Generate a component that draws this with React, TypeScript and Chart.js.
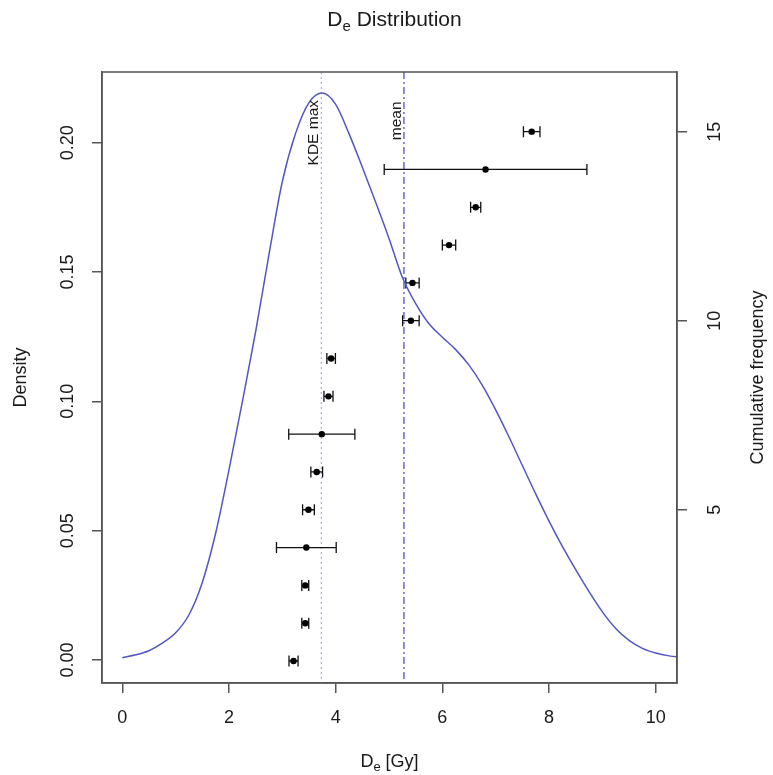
import React, { useEffect, useRef } from 'react';
import { Chart, registerables } from 'chart.js';

Chart.register(...registerables);

// ---- data ----
const kdeX = [0, 0.25, 0.5, 0.75, 1.0, 1.25, 1.5, 1.75, 2.0, 2.25, 2.5, 2.75, 3.0, 3.25, 3.5, 3.75, 4.0, 4.25, 4.5, 4.75, 5.0, 5.25, 5.5, 5.75, 6.0, 6.25, 6.5, 6.75, 7.0, 7.25, 7.5, 7.75, 8.0, 8.25, 8.5, 8.75, 9.0, 9.25, 9.5, 9.75, 10.0, 10.25, 10.5];
const kdeDensity = [0.0009, 0.0020, 0.0036, 0.0065, 0.0105, 0.0175, 0.0300, 0.0490, 0.0735, 0.0998, 0.1270, 0.1568, 0.1850, 0.2037, 0.2155, 0.2192, 0.2148, 0.2035, 0.1905, 0.1770, 0.1630, 0.1480, 0.1378, 0.1300, 0.1248, 0.1200, 0.1140, 0.1062, 0.0967, 0.0862, 0.0752, 0.0642, 0.0537, 0.0439, 0.0349, 0.0264, 0.0186, 0.0122, 0.0076, 0.0045, 0.0027, 0.0016, 0.0010];

const deValues = [3.21, 3.43, 3.43, 3.45, 3.49, 3.645, 3.74, 3.865, 3.915, 5.41, 5.44, 6.125, 6.625, 6.81, 7.675];
const deErrors = [0.085, 0.065, 0.065, 0.56, 0.11, 0.11, 0.62, 0.085, 0.08, 0.155, 0.125, 0.125, 0.095, 1.9, 0.155];
const cumFreq = [1, 2, 3, 4, 5, 6, 7, 8, 9, 10, 11, 12, 13, 14, 15];

const xTicks = [0, 2, 4, 6, 8, 10];
const densityTicks = [0, 0.05, 0.1, 0.15, 0.2];
const densityTickLabels = ['0.00', '0.05', '0.10', '0.15', '0.20'];
const freqTicks = [5, 10, 15];
const freqTickLabels = ['5', '10', '15'];

const kdeMaxValue = 3.73;
const deMeanValue = 5.28;

const FONT = '"Liberation Sans", Arial, Helvetica, sans-serif';
const TEXT = '#1a1a1a';
const AXIS = '#555555';

function drawRotated(ctx: CanvasRenderingContext2D, text: string, x: number, y: number, font: string, align: CanvasTextAlign) {
  ctx.save();
  ctx.translate(x, y);
  ctx.rotate(-Math.PI / 2);
  ctx.font = font;
  ctx.fillStyle = TEXT;
  ctx.textAlign = align;
  ctx.textBaseline = 'alphabetic';
  ctx.fillText(text, 0, 0);
  ctx.restore();
}

function drawSubText(ctx: CanvasRenderingContext2D, main: string, sub: string, rest: string, cx: number, baseline: number, size: number) {
  const f1 = `${size}px ${FONT}`;
  const f2 = `${Math.round(size * 0.72)}px ${FONT}`;
  ctx.save();
  ctx.font = f1;
  const w1 = ctx.measureText(main).width;
  const w3 = ctx.measureText(rest).width;
  ctx.font = f2;
  const w2 = ctx.measureText(sub).width;
  let x = cx - (w1 + w2 + w3) / 2;
  ctx.textAlign = 'left';
  ctx.textBaseline = 'alphabetic';
  ctx.fillStyle = TEXT;
  ctx.font = f1;
  ctx.fillText(main, x, baseline);
  x += w1;
  ctx.font = f2;
  ctx.fillText(sub, x, baseline + size * 0.22);
  x += w2;
  ctx.font = f1;
  ctx.fillText(rest, x, baseline);
  ctx.restore();
}

const decorPlugin = {
  id: 'decor',
  beforeDatasetsDraw(chart: any) {
    const ctx: CanvasRenderingContext2D = chart.ctx;
    const { top, bottom } = chart.chartArea;
    const xs = chart.scales.x;
    const ys2 = chart.scales.y2;
    ctx.save();
    // KDE max line (dotted)
    const xk = xs.getPixelForValue(kdeMaxValue);
    ctx.strokeStyle = '#9c9ce8';
    ctx.lineWidth = 1;
    ctx.setLineDash([2, 3]);
    ctx.beginPath();
    ctx.moveTo(xk, top);
    ctx.lineTo(xk, bottom);
    ctx.stroke();
    // mean line (dash-dot)
    const xm = xs.getPixelForValue(deMeanValue);
    ctx.strokeStyle = '#4343c4';
    ctx.lineWidth = 1.2;
    ctx.setLineDash([7, 3, 2, 3]);
    ctx.beginPath();
    ctx.moveTo(xm, top);
    ctx.lineTo(xm, bottom);
    ctx.stroke();
    ctx.setLineDash([]);
    // error bars
    ctx.strokeStyle = '#111111';
    ctx.lineWidth = 1.3;
    for (let i = 0; i < deValues.length; i++) {
      const py = ys2.getPixelForValue(cumFreq[i]);
      const x1 = xs.getPixelForValue(deValues[i] - deErrors[i]);
      const x2 = xs.getPixelForValue(deValues[i] + deErrors[i]);
      ctx.beginPath();
      ctx.moveTo(x1, py);
      ctx.lineTo(x2, py);
      ctx.moveTo(x1, py - 5.5);
      ctx.lineTo(x1, py + 5.5);
      ctx.moveTo(x2, py - 5.5);
      ctx.lineTo(x2, py + 5.5);
      ctx.stroke();
    }
    ctx.restore();
  },
  afterDraw(chart: any) {
    const ctx: CanvasRenderingContext2D = chart.ctx;
    const { left, right, top, bottom } = chart.chartArea;
    const xs = chart.scales.x;
    const ys = chart.scales.y;
    const ys2 = chart.scales.y2;
    ctx.save();
    // box
    ctx.strokeStyle = AXIS;
    ctx.lineWidth = 1.5;
    ctx.strokeRect(left, top, right - left, bottom - top);
    // y tick labels
    const tickFont = `18px ${FONT}`;
    densityTicks.forEach((v, i) => {
      drawRotated(ctx, densityTickLabels[i], 72.5, ys.getPixelForValue(v), tickFont, 'center');
    });
    freqTicks.forEach((v, i) => {
      drawRotated(ctx, freqTickLabels[i], 719.5, ys2.getPixelForValue(v), tickFont, 'center');
    });
    // axis titles
    const midY = (top + bottom) / 2;
    drawRotated(ctx, 'Density', 26, midY, `18px ${FONT}`, 'center');
    drawRotated(ctx, 'Cumulative frequency', 763, midY, `18px ${FONT}`, 'center');
    const midX = (left + right) / 2;
    drawSubText(ctx, 'D', 'e', ' [Gy]', midX, 767, 18);
    drawSubText(ctx, 'D', 'e', ' Distribution', midX + 5, 26, 21);
    // line labels
    drawRotated(ctx, 'KDE max', xs.getPixelForValue(kdeMaxValue) - 3, top + 28, `15.5px ${FONT}`, 'right');
    drawRotated(ctx, 'mean', xs.getPixelForValue(deMeanValue) - 2.5, top + 29.5, `15.5px ${FONT}`, 'right');
    ctx.restore();
  },
};

export default function App() {
  const canvasRef = useRef<HTMLCanvasElement | null>(null);

  useEffect(() => {
    if (!canvasRef.current) return;
    const kdePoints = kdeX.map((x, i) => ({ x, y: kdeDensity[i] }));
    const dePoints = deValues.map((x, i) => ({ x, y: cumFreq[i] }));

    const chart = new Chart(canvasRef.current, {
      type: 'line',
      data: {
        datasets: [
          {
            type: 'line',
            label: 'KDE',
            data: kdePoints,
            xAxisID: 'x',
            yAxisID: 'y',
            borderColor: '#5257c4',
            borderWidth: 1.5,
            pointRadius: 0,
            fill: false,
            cubicInterpolationMode: 'monotone',
          } as any,
          {
            type: 'scatter',
            label: 'De',
            data: dePoints,
            xAxisID: 'x',
            yAxisID: 'y2',
            pointRadius: 3.2,
            pointBackgroundColor: '#000000',
            pointBorderWidth: 0,
            showLine: false,
          } as any,
        ],
      },
      options: {
        animation: false,
        responsive: false,
        devicePixelRatio: 1,
        layout: { padding: { top: 72, left: 0, right: 0, bottom: 0 } },
        plugins: {
          legend: { display: false },
          tooltip: { enabled: false },
          title: { display: false },
        },
        scales: {
          x: {
            type: 'linear',
            position: 'bottom',
            min: -0.3806,
            max: 10.399,
            afterBuildTicks: (s: any) => { s.ticks = xTicks.map((v) => ({ value: v })); },
            afterFit: (s: any) => { s.height = 92; },
            grid: { display: true, drawOnChartArea: false, drawTicks: true, tickLength: 10, color: AXIS, lineWidth: 1.5 },
            border: { display: true, color: AXIS, width: 1.5 },
            ticks: {
              color: TEXT,
              font: { family: FONT, size: 18 },
              padding: 14,
              maxRotation: 0,
              autoSkip: false,
              callback: (v: any) => String(v),
            },
          },
          y: {
            type: 'linear',
            position: 'left',
            min: -0.00889,
            max: 0.22733,
            afterBuildTicks: (s: any) => { s.ticks = densityTicks.map((v) => ({ value: v })); },
            afterFit: (s: any) => { s.width = 102; },
            grid: { display: true, drawOnChartArea: false, drawTicks: true, tickLength: 10, color: AXIS, lineWidth: 1.5 },
            border: { display: true, color: AXIS, width: 1.5 },
            ticks: { display: false },
          },
          y2: {
            type: 'linear',
            position: 'right',
            min: 0.418,
            max: 16.578,
            afterBuildTicks: (s: any) => { s.ticks = freqTicks.map((v) => ({ value: v })); },
            afterFit: (s: any) => { s.width = 96; },
            grid: { display: true, drawOnChartArea: false, drawTicks: true, tickLength: 10, color: AXIS, lineWidth: 1.5 },
            border: { display: true, color: AXIS, width: 1.5 },
            ticks: { display: false },
          },
        },
      } as any,
      plugins: [decorPlugin],
    });
    return () => chart.destroy();
  }, []);

  return (
    <div style={{ position: 'absolute', left: 0, top: 0, width: 773, height: 775, background: '#ffffff' }}>
      <canvas ref={canvasRef} width={773} height={775} style={{ width: 773, height: 775, display: 'block' }} />
    </div>
  );
}
